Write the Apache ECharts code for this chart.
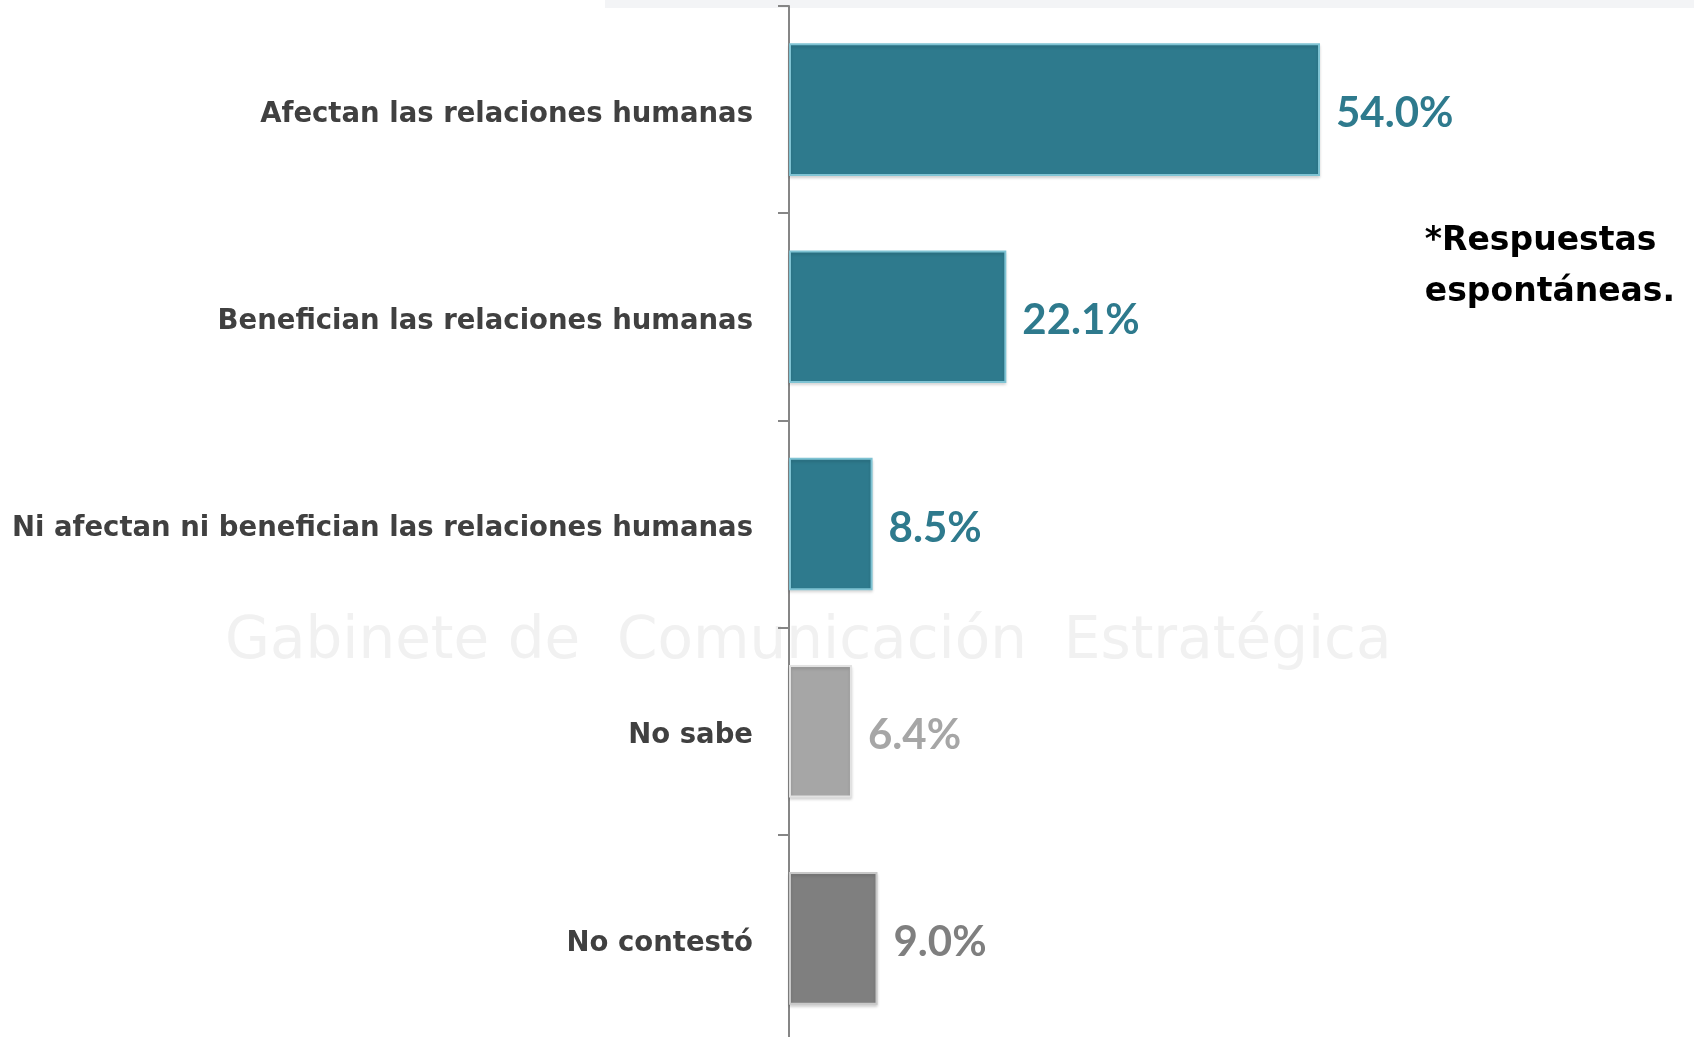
<!DOCTYPE html>
<html><head><meta charset="utf-8">
<script src="https://cdn.jsdelivr.net/npm/echarts@6/dist/echarts.min.js"></script>
<style>html,body{margin:0;padding:0;background:#fff;overflow:hidden}#c{width:1694px;height:1050px}</style>
</head><body><div id="c"></div>
<script>
const categories = ["Afectan las relaciones humanas","Benefician las relaciones humanas","Ni afectan ni benefician las relaciones humanas","No sabe","No contestó"];
const values = [54.0, 22.1, 8.5, 6.4, 9.0];
const barColors = ["#2E7A8D","#2E7A8D","#2E7A8D","#A6A6A6","#7F7F7F"];
const edgeColors = ["#7FC3D3","#7FC3D3","#7FC3D3","#E2E2E2","#C8C8C8"];
const labelColors = ["#2E7A8D","#2E7A8D","#2E7A8D","#A6A6A6","#7F7F7F"];
const note = ["*Respuestas","espontáneas."];
const FONT = "Lato, 'Open Sans', sans-serif";
const WIDE = "'DejaVu Sans', sans-serif";
const chart = echarts.init(document.getElementById('c'));
chart.setOption({
  animation:false,
  backgroundColor:'#fff',
  graphic:[
    {type:'rect',shape:{x:605,y:0,width:1089,height:8},style:{fill:'#F3F4F6'},z:-10},
    {type:'text',left:225,top:614,z:-10,style:{text:'Gabinete de  Comunicación  Estratégica',font:"400 58px 'DejaVu Sans', sans-serif",fill:'#F1F1F1'}},
    {type:'text',right:19,top:216,style:{text:note.join('\n'),font:"700 33px "+WIDE,fill:'#000',align:'right',lineHeight:51}}
  ],
  grid:{left:789,top:6,height:1036,width:885,containLabel:false},
  xAxis:{type:'value',min:0,max:90,show:false},
  yAxis:{type:'category',inverse:true,data:categories,
    axisLine:{show:true,lineStyle:{color:'#868686',width:2}},
    axisTick:{show:true,length:11,lineStyle:{color:'#868686',width:2}},
    axisLabel:{margin:36,formatter:v=>'{a|'+v+'}',
      rich:{a:{color:'#404040',fontFamily:WIDE,fontWeight:'bold',fontSize:27.5,lineHeight:34,padding:[10,0,0,0]}}}
  },
  series:[{type:'bar',barWidth:'64%',
    data:values.map((v,i)=>({value:v,itemStyle:{color:barColors[i],borderColor:edgeColors[i],borderWidth:2,shadowColor:'rgba(0,0,0,0.15)',shadowBlur:3,shadowOffsetY:2},
      label:{color:labelColors[i]}})),
    label:{show:true,position:'right',distance:16,offset:[0,4],fontFamily:FONT,fontWeight:'bold',fontSize:42,
      formatter:p=>p.value.toFixed(1)+'%'}
  }]
});
</script></body></html>
